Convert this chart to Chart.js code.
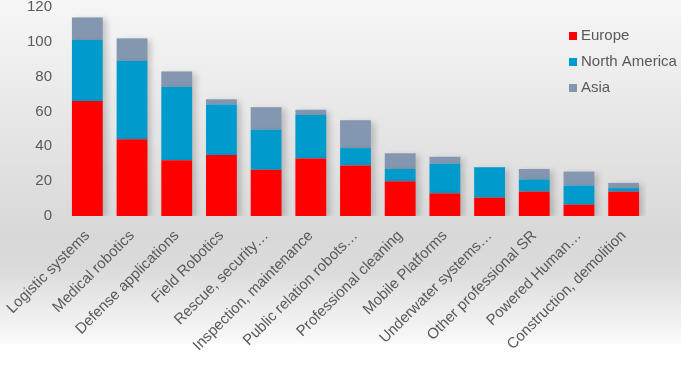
<!DOCTYPE html>
<html>
<head>
<meta charset="utf-8">
<script src="https://cdn.jsdelivr.net/npm/chart.js@4/dist/chart.umd.min.js"></script>
<style>
  html, body { margin: 0; padding: 0; }
  body {
    width: 681px; height: 375px; overflow: hidden;
    background: linear-gradient(to bottom, #f6f6f6 0px, #ececec 80px, #e0e0e0 170px, #d8d8d8 235px, #dbdbdb 270px, #ececec 310px, #f8f8f8 340px, #ffffff 346px);
  }
  #wrap { position: relative; width: 681px; height: 375px; }
</style>
</head>
<body>
<div id="wrap"><canvas id="c" width="681" height="375"></canvas></div>
<script>
const categories = [
  "Logistic systems", "Medical robotics", "Defense applications", "Field Robotics",
  "Rescue, security…", "Inspection, maintenance", "Public relation robots…",
  "Professional cleaning", "Mobile Platforms", "Underwater systems…",
  "Other professional SR", "Powered Human…", "Construction, demolition"
];
const europe       = [66, 44, 32, 35, 26.5, 33, 29, 20, 13, 10.5, 14, 6.5, 14];
const northAmerica = [35, 45, 42, 29, 23,   25, 10,  7, 17, 17.5,  7, 11,   2];
const asia         = [13, 13,  9,  3, 13,    3, 16,  9,  4,  0,    6,  8,   3];
const yTicks = [0, 20, 40, 60, 80, 100, 120];

const TEXT = '#595959';
const FONT = '"Liberation Sans", Arial, sans-serif';

const legendPlugin = {
  id: 'insideLegend',
  afterDraw(chart) {
    const ctx = chart.ctx;
    ctx.save();
    ctx.font = '15px ' + FONT;
    ctx.textBaseline = 'middle';
    ctx.textAlign = 'left';
    const x0 = 569, y0 = 36, gap = 26;
    chart.data.datasets.forEach((ds, i) => {
      const y = y0 + i * gap;
      ctx.fillStyle = ds.backgroundColor;
      ctx.fillRect(x0, y - 4, 8, 8);
      ctx.fillStyle = TEXT;
      ctx.fillText(ds.label, x0 + 12, y);
    });
    ctx.restore();
  }
};

const shadowPlugin = {
  id: 'barShadow',
  beforeDatasetsDraw(chart) {
    const ctx = chart.ctx;
    ctx.save();
    ctx.shadowColor = 'rgba(0,0,0,0.18)';
    ctx.shadowBlur = 6;
    ctx.shadowOffsetX = 4;
    ctx.shadowOffsetY = 2;
  },
  afterDatasetsDraw(chart) {
    chart.ctx.restore();
  }
};

function zeroPad(scale) {
  scale.paddingTop = 0; scale.paddingBottom = 0;
  scale.paddingLeft = 0; scale.paddingRight = 0;
}

new Chart(document.getElementById('c'), {
  type: 'bar',
  data: {
    labels: categories,
    datasets: [
      { label: 'Europe', data: europe, backgroundColor: '#ff0000' },
      { label: 'North America', data: northAmerica, backgroundColor: '#009bcd' },
      { label: 'Asia', data: asia, backgroundColor: '#8497b0' }
    ]
  },
  plugins: [shadowPlugin, legendPlugin],
  options: {
    responsive: false,
    animation: false,
    layout: { padding: { left: 0, right: 35, top: 7, bottom: 0 } },
    plugins: { legend: { display: false }, tooltip: { enabled: false } },
    datasets: { bar: { categoryPercentage: 0.69, barPercentage: 1.0 } },
    scales: {
      x: {
        stacked: true,
        grid: { display: false, drawTicks: false },
        border: { display: false },
        ticks: {
          color: TEXT, font: { family: FONT, size: 15 },
          minRotation: 45, maxRotation: 45, autoSkip: false, padding: 11
        },
        afterFit(scale) { scale.height = 159; zeroPad(scale); }
      },
      y: {
        stacked: true,
        min: 0, max: 120,
        grid: { display: false, drawTicks: false },
        border: { display: false },
        ticks: {
          color: TEXT, font: { family: FONT, size: 15 }, padding: 13,
          stepSize: 20
        },
        afterBuildTicks(scale) { scale.ticks = yTicks.map(v => ({ value: v })); },
        afterFit(scale) { scale.width = 65; zeroPad(scale); }
      }
    }
  }
});
</script>
</body>
</html>
